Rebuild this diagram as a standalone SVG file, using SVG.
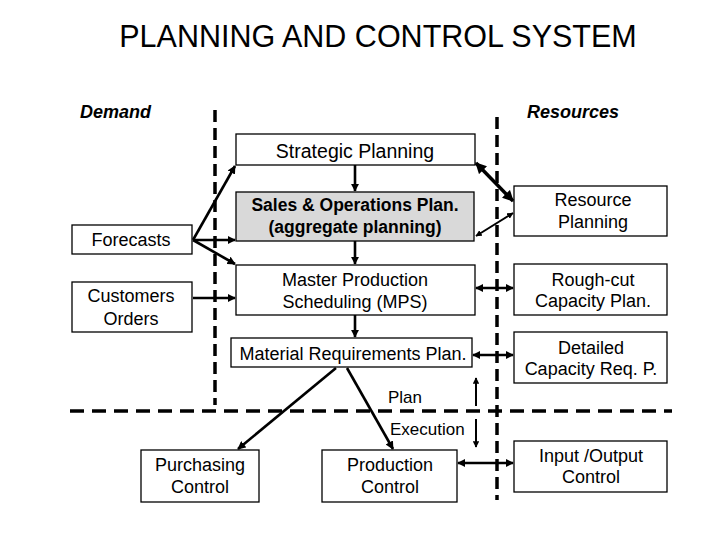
<svg xmlns="http://www.w3.org/2000/svg" width="720" height="540" viewBox="0 0 720 540">
<defs>
<marker id="ah" viewBox="0 0 10 10" refX="9" refY="5" markerWidth="3.2" markerHeight="3.2" orient="auto-start-reverse" markerUnits="strokeWidth">
<path d="M0,0 L10,5 L0,10 z" fill="#000"/>
</marker>
<style>
.bx{fill:#fff;stroke:#000;stroke-width:1.3}
.gr{fill:#d9d9d9;stroke:#000;stroke-width:1.3}
.t{font-family:"Liberation Sans",Arial,sans-serif;font-size:18px;fill:#000;text-anchor:middle}
.b{font-weight:bold;font-size:17.5px}
.hd{font-family:"Liberation Sans",Arial,sans-serif;font-size:18px;font-weight:bold;font-style:italic}
.lb{font-family:"Liberation Sans",Arial,sans-serif;font-size:17px;fill:#000}
.dash{stroke:#000;stroke-width:3.5;stroke-dasharray:12,6;fill:none}
.dashh{stroke:#000;stroke-width:3.5;stroke-dasharray:14,8;fill:none}
.c{stroke:#000;stroke-width:2.6;fill:none;marker-end:url(#ah)}
.d{stroke:#000;stroke-width:2.6;fill:none;marker-end:url(#ah);marker-start:url(#ah)}
</style>
</defs>
<rect width="720" height="540" fill="#fff"/>
<text x="378" y="47" font-family="Liberation Sans,Arial,sans-serif" font-size="30.5" text-anchor="middle">PLANNING AND CONTROL SYSTEM</text>
<text class="hd" x="80" y="118">Demand</text>
<text class="hd" x="527" y="118">Resources</text>
<g id="dividers">
<line class="dash" x1="215" y1="110" x2="215" y2="405"/>
<line class="dash" x1="497" y1="117" x2="497" y2="500"/>
<line class="dashh" x1="70" y1="411" x2="672" y2="411"/>
</g>
<g id="strategic"><rect class="bx" x="236" y="134" width="239" height="31"/><text class="t" x="355" y="158" style="font-size:19.5px">Strategic Planning</text></g>
<g id="sop"><rect class="gr" x="236" y="192" width="238" height="49"/><text class="t b" x="355" y="211">Sales &amp; Operations Plan.</text><text class="t b" x="355" y="233">(aggregate planning)</text></g>
<g id="mps"><rect class="bx" x="236" y="265" width="239" height="50"/><text class="t" x="355" y="286">Master Production</text><text class="t" x="355" y="308">Scheduling (MPS)</text></g>
<g id="mrp"><rect class="bx" x="231" y="338" width="241" height="29"/><text class="t" x="353" y="360">Material Requirements Plan.</text></g>
<g id="forecasts"><rect class="bx" x="72" y="225" width="120" height="29"/><text class="t" x="131" y="246">Forecasts</text></g>
<g id="orders"><rect class="bx" x="72" y="282" width="120" height="50"/><text class="t" x="131" y="302">Customers</text><text class="t" x="131" y="325">Orders</text></g>
<g id="resource"><rect class="bx" x="514" y="186" width="153" height="50"/><text class="t" x="593" y="206">Resource</text><text class="t" x="593" y="228">Planning</text></g>
<g id="roughcut"><rect class="bx" x="514" y="264" width="153" height="51"/><text class="t" x="593" y="286">Rough-cut</text><text class="t" x="593" y="307">Capacity Plan.</text></g>
<g id="detailed"><rect class="bx" x="514" y="332" width="153" height="51"/><text class="t" x="591" y="354">Detailed</text><text class="t" x="591" y="375">Capacity Req. P.</text></g>
<g id="purchasing"><rect class="bx" x="141" y="450" width="118" height="52"/><text class="t" x="200" y="471">Purchasing</text><text class="t" x="200" y="493">Control</text></g>
<g id="production"><rect class="bx" x="322" y="450" width="135" height="52"/><text class="t" x="390" y="471">Production</text><text class="t" x="390" y="493">Control</text></g>
<g id="io"><rect class="bx" x="514" y="441" width="153" height="51"/><text class="t" x="591" y="462">Input /Output</text><text class="t" x="591" y="483">Control</text></g>
<g id="labels">
<text class="lb" x="388" y="403">Plan</text>
<text class="lb" x="390" y="435">Execution</text>
</g>
<g id="connectors">
<line class="c" x1="193" y1="240" x2="235" y2="166"/>
<line class="c" x1="193" y1="240" x2="235" y2="240"/>
<line class="c" x1="193" y1="240" x2="235" y2="264"/>
<line class="c" x1="193" y1="298" x2="235" y2="298"/>
<line class="c" x1="355" y1="165" x2="355" y2="191"/>
<line class="c" x1="355" y1="241" x2="355" y2="264"/>
<line class="c" x1="355" y1="315" x2="355" y2="337"/>
<line class="d" x1="476" y1="163" x2="513" y2="201" style="stroke-width:3.5"/>
<line class="d" x1="513" y1="213" x2="476" y2="236" style="stroke-width:2"/>
<line class="d" x1="476" y1="288" x2="513" y2="288"/>
<line class="d" x1="473" y1="355" x2="513" y2="355"/>
<line class="c" x1="336" y1="368" x2="238" y2="449"/>
<line class="c" x1="347" y1="368" x2="393" y2="449"/>
<line class="d" x1="458" y1="463" x2="513" y2="463"/>
<line class="c" x1="476" y1="406" x2="476" y2="378" style="stroke-width:2"/>
<line class="c" x1="476" y1="419" x2="476" y2="447" style="stroke-width:2"/>
</g>
</svg>
